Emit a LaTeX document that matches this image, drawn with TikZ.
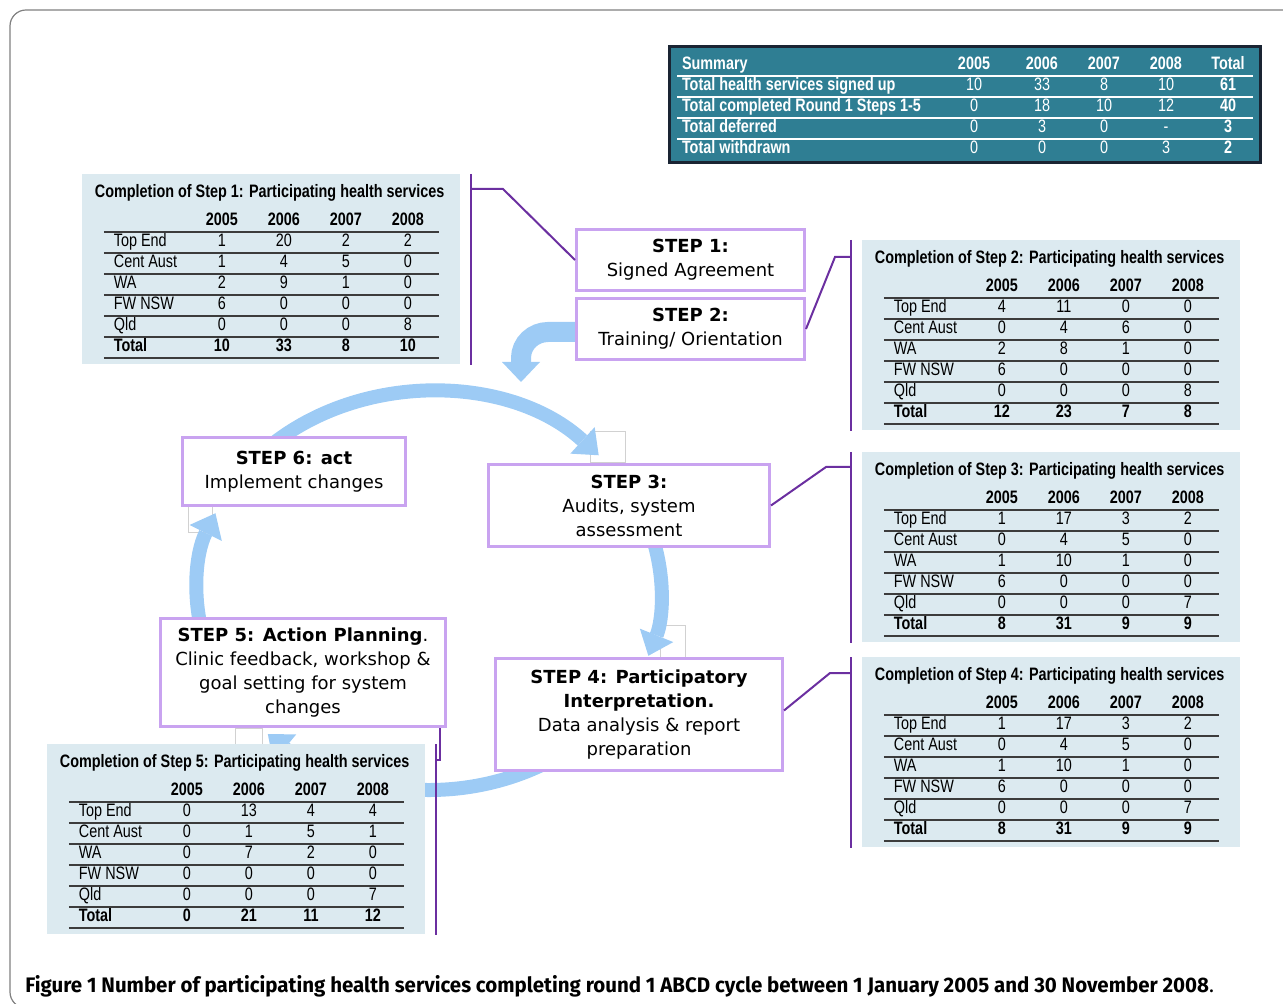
\documentclass[tikz,border=0pt]{standalone}
\usepackage{fontspec}
\usepackage{array}
\usepackage{colortbl}
\usepackage{tikz}
\usetikzlibrary{arrows.meta, positioning}

\setmainfont{Liberation Sans}
\newfontfamily\tabfont[FakeStretch=0.8]{Liberation Sans}
\newfontfamily\stepfont{DejaVu Sans}
\newfontfamily\capfont[FakeStretch=0.975]{Fira Sans}

\definecolor{tableblue}{HTML}{DCEAF0}
\definecolor{summaryteal}{HTML}{2F7E93}
\definecolor{summaryedge}{HTML}{1A2433}
\definecolor{lilac}{HTML}{C9A3F0}
\definecolor{linkpurple}{HTML}{6B2FA0}
\definecolor{arrowblue}{HTML}{9DCBF5}
\definecolor{rulegrey}{HTML}{3C3C3C}

\setlength{\tabcolsep}{0pt}
\setlength{\arrayrulewidth}{0.75pt}
\newcolumntype{L}{>{\hspace{5pt}}p{43.5pt}}
\newcolumntype{C}[1]{>{\centering\arraybackslash}p{#1}}

% one completion table: step number, then the rows
\newcommand{\completionTable}[2]{%
  \arrayrulecolor{rulegrey}%
  \begin{tabular}{@{}L*{4}{C{31pt}}@{}}
    \noalign{\vskip 2pt}
    \multicolumn{5}{@{}l@{}}{\makebox[0pt][l]{\hspace{-4.5pt}\bfseries Completion of Step #1: Participating health services}}\\[4.25pt]
    & \bfseries 2005 & \bfseries 2006 & \bfseries 2007 & \bfseries 2008\\ \hline
    #2
  \end{tabular}}

\pgfdeclarelayer{back}
\pgfsetlayers{back,main}

\begin{document}
\begin{tikzpicture}[x=0.5pt, y=-0.5pt,
    stepbox/.style={draw=lilac, line width=1.5pt, fill=white, align=center, inner sep=0pt,
      font=\stepfont\fontsize{9}{12}\selectfont},
    steptable/.style={fill=tableblue, anchor=north west, minimum width=189pt, minimum height=95pt,
      inner sep=0pt, font=\tabfont\fontsize{9}{9.75}\selectfont},
    link/.style={draw=linkpurple, line width=1pt},
    cyclearrow/.style={draw=arrowblue, line width=7pt, -{Triangle[length=11pt, width=18pt, line width=0pt]}},
    ghost/.style={draw=black!18, line width=0.5pt}]

    \useasboundingbox (0,0) rectangle (1283,1004);

    % Summary box at the top
    \node (summary) [fill=summaryteal, draw=summaryedge, line width=1.5pt, text=white, inner sep=0pt,
      minimum width=295.5pt, minimum height=58pt, font=\tabfont\fontsize{9}{9.75}\selectfont] at (965,104.5) {%
      \arrayrulecolor{white}%
      \begin{tabular}{@{}>{\hspace{2.5pt}\bfseries}p{133pt}C{31pt}C{37pt}C{25pt}C{37pt}>{\centering\arraybackslash\bfseries}p{25pt}@{}}
        \noalign{\vskip 3pt}
        Summary & \bfseries 2005 & \bfseries 2006 & \bfseries 2007 & \bfseries 2008 & Total\\ \hline
        Total health services signed up & 10 & 33 & 8 & 10 & 61\\ \hline
        Total completed Round 1 Steps 1-5 & 0 & 18 & 10 & 12 & 40\\ \hline
        Total deferred & 0 & 3 & 0 & - & 3\\ \hline
        Total withdrawn & 0 & 0 & 0 & 3 & 2
      \end{tabular}};

    % Completion tables
    \node (tabOne) [steptable] at (82,174) {\completionTable{1}{%
        Top End & 1 & 20 & 2 & 2\\ \hline
        Cent Aust & 1 & 4 & 5 & 0\\ \hline
        WA & 2 & 9 & 1 & 0\\ \hline
        FW NSW & 6 & 0 & 0 & 0\\ \hline
        Qld & 0 & 0 & 0 & 8\\ \hline
        \bfseries Total & \bfseries 10 & \bfseries 33 & \bfseries 8 & \bfseries 10\\ \hline}};
    \node (tabTwo) [steptable] at (862,240) {\completionTable{2}{%
        Top End & 4 & 11 & 0 & 0\\ \hline
        Cent Aust & 0 & 4 & 6 & 0\\ \hline
        WA & 2 & 8 & 1 & 0\\ \hline
        FW NSW & 6 & 0 & 0 & 0\\ \hline
        Qld & 0 & 0 & 0 & 8\\ \hline
        \bfseries Total & \bfseries 12 & \bfseries 23 & \bfseries 7 & \bfseries 8\\ \hline}};
    \node (tabThree) [steptable] at (862,452) {\completionTable{3}{%
        Top End & 1 & 17 & 3 & 2\\ \hline
        Cent Aust & 0 & 4 & 5 & 0\\ \hline
        WA & 1 & 10 & 1 & 0\\ \hline
        FW NSW & 6 & 0 & 0 & 0\\ \hline
        Qld & 0 & 0 & 0 & 7\\ \hline
        \bfseries Total & \bfseries 8 & \bfseries 31 & \bfseries 9 & \bfseries 9\\ \hline}};
    \node (tabFour) [steptable] at (862,657) {\completionTable{4}{%
        Top End & 1 & 17 & 3 & 2\\ \hline
        Cent Aust & 0 & 4 & 5 & 0\\ \hline
        WA & 1 & 10 & 1 & 0\\ \hline
        FW NSW & 6 & 0 & 0 & 0\\ \hline
        Qld & 0 & 0 & 0 & 7\\ \hline
        \bfseries Total & \bfseries 8 & \bfseries 31 & \bfseries 9 & \bfseries 9\\ \hline}};
    \node (tabFive) [steptable] at (47,744) {\completionTable{5}{%
        Top End & 0 & 13 & 4 & 4\\ \hline
        Cent Aust & 0 & 1 & 5 & 1\\ \hline
        WA & 0 & 7 & 2 & 0\\ \hline
        FW NSW & 0 & 0 & 0 & 0\\ \hline
        Qld & 0 & 0 & 0 & 7\\ \hline
        \bfseries Total & \bfseries 0 & \bfseries 21 & \bfseries 11 & \bfseries 12\\ \hline}};

    % Step boxes
    \node (stepOne) [stepbox, minimum width=114pt, minimum height=30.5pt] at (690.5,260) {\textbf{STEP 1:}\\Signed Agreement};
    \node (stepTwo) [stepbox, minimum width=114pt, minimum height=30.5pt, below=2.5pt of stepOne] {\textbf{STEP 2:}\\Training/ Orientation};
    \node (stepThree) [stepbox, minimum width=140.5pt, minimum height=41pt] at (629,505.5) {\textbf{STEP 3:}\\Audits, system\\assessment};
    \node (stepFour) [stepbox, minimum width=143.5pt, minimum height=56pt] at (639,714.5) {\textbf{STEP 4: Participatory}\\\textbf{Interpretation.}\\Data analysis \& report\\preparation};
    \node (stepFive) [stepbox, minimum width=142.5pt, minimum height=54pt] at (303,672.5) {\textbf{STEP 5: Action Planning}.\\Clinic feedback, workshop \&\\goal setting for system\\changes};
    \node (stepSix) [stepbox, minimum width=111.5pt, minimum height=34pt] at (294,471.5) {\textbf{STEP 6: act}\\Implement changes};

    % Ends of the connectors on the brackets
    \coordinate (brOne) at (472,189);
    \coordinate (brTwo) at (851,257);
    \coordinate (brThree) at (851,467);
    \coordinate (brFour) at (851,673);
    \coordinate (brFive) at (435,760);
    \coordinate (bendEnd) at (521,382);

    % Brackets beside the tables
    \draw[link] ([xshift=5pt]tabOne.north east) -- ([xshift=5pt]tabOne.south east);
    \draw[link] ([xshift=-5.5pt]tabTwo.north west) -- ([xshift=-5.5pt]tabTwo.south west);
    \draw[link] ([xshift=-5.5pt]tabThree.north west) -- ([xshift=-5.5pt]tabThree.south west);
    \draw[link] ([xshift=-5.5pt]tabFour.north west) -- ([xshift=-5.5pt]tabFour.south west);
    \draw[link] ([xshift=5pt]tabFive.north east) -- ([xshift=5pt]tabFive.south east);

    % Connectors from the steps to their tables
    \draw[link] (stepOne.west) -- (503,189) -- (brOne);
    \draw[link] (stepTwo.east) -- (835,257) -- (brTwo);
    \draw[link] (stepThree.east) -- (826,467) -- (brThree);
    \draw[link] ([yshift=2pt]stepFour.east) -- (830,673) -- (brFour);
    \draw[link] ([xshift=-3.5pt]stepFive.south east) |- (brFive);

    % Cycle arrows behind the boxes
    \begin{pgfonlayer}{back}
        \draw[ghost] (590,432) rectangle (625,463);
        \draw[ghost] (188,507) rectangle (212,533);
        \draw[ghost] (660,625) rectangle (685,657);
        \draw[ghost] (235,728) rectangle (262,744);
        \draw[cyclearrow] ({429+232*cos(228)},{591+199*sin(228)}) arc[start angle=-228, end angle=-317, x radius=116pt, y radius=99.5pt];
        \draw[cyclearrow] ({429+232*cos(-15)},{591+199*sin(-15)}) arc[start angle=15, end angle=-19, x radius=116pt, y radius=99.5pt];
        \draw[cyclearrow] ({429+232*cos(40)},{591+199*sin(40)}) arc[start angle=-40, end angle=-134, x radius=116pt, y radius=99.5pt];
        \draw[cyclearrow] ({429+232*cos(165)},{591+199*sin(165)}) arc[start angle=-165, end angle=-203, x radius=116pt, y radius=99.5pt];
        \draw[draw=arrowblue, line width=10pt, -{Triangle[length=10pt, width=19pt, line width=0pt]}]
            ([yshift=-1.5pt]stepTwo.west) -- (548,332) to[out=180, in=90] (521,358) -- (bendEnd);
    \end{pgfonlayer}

    % Caption and frame
    \node (caption) [anchor=west, inner sep=0pt, font=\capfont\fontsize{10.5}{12}\selectfont] at (25,986)
        {\textbf{Figure 1 Number of participating health services completing round 1 ABCD cycle between 1 January 2005 and 30 November 2008}.};
    \draw[draw=black!50, line width=0.6pt, rounded corners=8pt] (1300,10) -- (10,10) -- (10,1008) -- (1300,1008);

\end{tikzpicture}
\end{document}
